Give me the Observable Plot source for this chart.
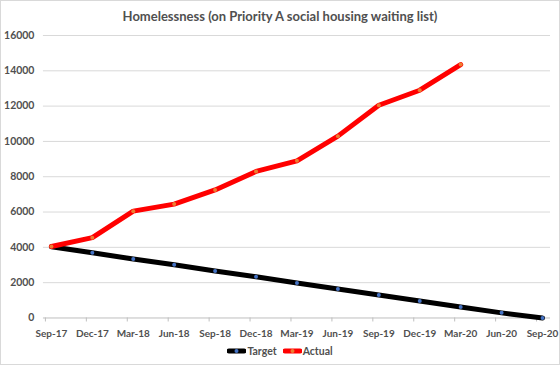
<!DOCTYPE html>
<html>
<head>
<meta charset="utf-8">
<script src="https://cdn.jsdelivr.net/npm/d3@7"></script>
<script src="https://cdn.jsdelivr.net/npm/@observablehq/plot@0.6"></script>
<style>
  html, body { margin: 0; padding: 0; background: #fff; }
  #chart { position: relative; width: 558px; height: 363px; border: 1px solid #d9d9d9; background: #fff; font-family: Lato, "Open Sans", sans-serif; color: #595959; overflow: hidden; }
  #title { position: absolute; left: 0; top: 7px; width: 558px; text-align: center; font-size: 13px; font-weight: bold; color: #505050; white-space: nowrap; }
  #plot { position: absolute; left: -1px; top: 27px; }
  #legend { position: absolute; left: 0; top: 344px; width: 558px; display: flex; justify-content: center; align-items: center; font-size: 10.5px; font-weight: bold; color: #505050; }
  .item { display: flex; align-items: center; margin: 0 3px; }
  .item svg { margin-right: 1px; }
</style>
</head>
<body>
<div id="chart">
  <div id="title">Homelessness (on Priority A social housing waiting list)</div>
  <div id="plot"></div>
  <div id="legend"></div>
</div>
<script>
const quarters = ["Sep-17","Dec-17","Mar-18","Jun-18","Sep-18","Dec-18","Mar-19","Jun-19","Sep-19","Dec-19","Mar-20","Jun-20","Sep-20"];
const target = [4030, 3690, 3340, 3010, 2660, 2330, 1980, 1640, 1300, 960, 620, 290, 0];
const actual = [4050, 4550, 6050, 6450, 7250, 8300, 8900, 10300, 12050, 12900, 14350];
const yTicks = [0, 2000, 4000, 6000, 8000, 10000, 12000, 14000, 16000];
const seriesNames = ["Target", "Actual"];
const lineColors = ["#000000", "#ff0000"];
const markerColors = ["#4472c4", "#ed7d31"];

const targetData = target.map((v, i) => ({q: quarters[i], v}));
const actualData = actual.map((v, i) => ({q: quarters[i], v}));

const chart = Plot.plot({
  width: 560,
  height: 315,
  marginLeft: 43,
  marginRight: 9,
  marginTop: 7,
  marginBottom: 25,
  style: {fontFamily: "Lato, 'Open Sans', sans-serif", fontSize: "10px", color: "#505050", background: "transparent", fontWeight: "bold"},
  x: {type: "point", domain: quarters, padding: 0.16, label: null},
  y: {domain: [0, 16000], ticks: yTicks, label: null},
  marks: [
    Plot.ruleY(yTicks.filter(d => d > 0), {stroke: "#d9d9d9", strokeWidth: 1}),
    Plot.ruleY([0], {stroke: "#bfbfbf", strokeWidth: 1}),
    Plot.axisY({ticks: yTicks, tickSize: 0, tickPadding: 9, tickFormat: d => String(d), fill: "#505050", fontSize: 10.5, label: null}),
    Plot.axisX({tickSize: 0, tickPadding: 12, fill: "#505050", fontSize: 10, label: null}),
    Plot.axisX({tickSize: 4, tickFormat: () => "", dx: -6, stroke: "#bfbfbf", label: null}),
    Plot.line(targetData, {x: "q", y: "v", stroke: lineColors[0], strokeWidth: 5, strokeLinejoin: "round", strokeLinecap: "round"}),
    Plot.dot(targetData, {x: "q", y: "v", r: 2, fill: markerColors[0], stroke: "none"}),
    Plot.line(actualData, {x: "q", y: "v", stroke: lineColors[1], strokeWidth: 5, strokeLinejoin: "round", strokeLinecap: "round"}),
    Plot.dot(actualData, {x: "q", y: "v", r: 2, fill: markerColors[1], stroke: "none"})
  ]
});
document.getElementById("plot").appendChild(chart);

const legend = document.getElementById("legend");
seriesNames.forEach((name, i) => {
  const item = document.createElement("div");
  item.className = "item";
  item.innerHTML = `<svg width="19" height="8"><line x1="2" y1="4" x2="17" y2="4" stroke="${lineColors[i]}" stroke-width="5" stroke-linecap="round"/><circle cx="9.5" cy="4" r="2" fill="${markerColors[i]}"/></svg><span>${name}</span>`;
  legend.appendChild(item);
});
</script>
</body>
</html>
